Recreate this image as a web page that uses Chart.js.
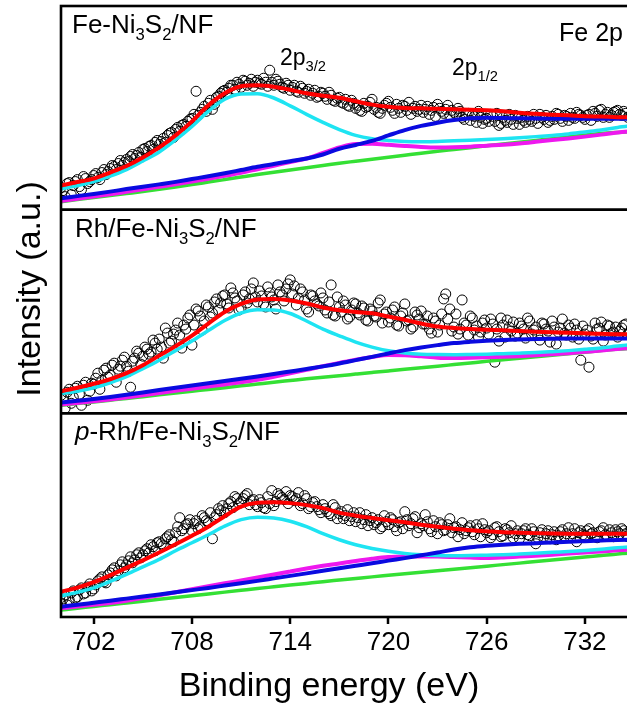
<!DOCTYPE html>
<html>
<head>
<meta charset="utf-8">
<script src="https://cdn.jsdelivr.net/npm/chart.js@4.4.1/dist/chart.umd.min.js"></script>
<style>
  html, body { margin: 0; padding: 0; background: #fff; overflow: hidden; }
  #wrap { width: 640px; height: 706px; }
</style>
</head>
<body>
<div id="wrap"><canvas id="xps" width="640" height="706"></canvas></div>
<script>
// binding energies of the fitted curves (eV)
const curveEnergy = [700, 701, 702, 703, 704, 705, 706, 707, 708, 709, 710, 711,
  712, 713, 714, 715, 716, 717, 718, 719, 720, 721, 722, 723,
  724, 725, 726, 727, 728, 729, 730, 731, 732, 733, 734, 735];

// binding energies of the measured points (eV), two interleaved sets
const pointEnergy = [
  700, 700.25, 700.5, 700.75, 701, 701.25, 701.5, 701.75,
  702, 702.25, 702.5, 702.75, 703, 703.25, 703.5, 703.75,
  704, 704.25, 704.5, 704.75, 705, 705.25, 705.5, 705.75,
  706, 706.25, 706.5, 706.75, 707, 707.25, 707.5, 707.75,
  708, 708.25, 708.5, 708.75, 709, 709.25, 709.5, 709.75,
  710, 710.25, 710.5, 710.75, 711, 711.25, 711.5, 711.75,
  712, 712.25, 712.5, 712.75, 713, 713.25, 713.5, 713.75,
  714, 714.25, 714.5, 714.75, 715, 715.25, 715.5, 715.75,
  716, 716.25, 716.5, 716.75, 717, 717.25, 717.5, 717.75,
  718, 718.25, 718.5, 718.75, 719, 719.25, 719.5, 719.75,
  720, 720.25, 720.5, 720.75, 721, 721.25, 721.5, 721.75,
  722, 722.25, 722.5, 722.75, 723, 723.25, 723.5, 723.75,
  724, 724.25, 724.5, 724.75, 725, 725.25, 725.5, 725.75,
  726, 726.25, 726.5, 726.75, 727, 727.25, 727.5, 727.75,
  728, 728.25, 728.5, 728.75, 729, 729.25, 729.5, 729.75,
  730, 730.25, 730.5, 730.75, 731, 731.25, 731.5, 731.75,
  732, 732.25, 732.5, 732.75, 733, 733.25, 733.5, 733.75,
  734, 734.25, 734.5, 734.75, 735];
const pointEnergyB = [
  700.125, 700.375, 700.625, 700.875, 701.125, 701.375, 701.625, 701.875,
  702.125, 702.375, 702.625, 702.875, 703.125, 703.375, 703.625, 703.875,
  704.125, 704.375, 704.625, 704.875, 705.125, 705.375, 705.625, 705.875,
  706.125, 706.375, 706.625, 706.875, 707.125, 707.375, 707.625, 707.875,
  708.125, 708.375, 708.625, 708.875, 709.125, 709.375, 709.625, 709.875,
  710.125, 710.375, 710.625, 710.875, 711.125, 711.375, 711.625, 711.875,
  712.125, 712.375, 712.625, 712.875, 713.125, 713.375, 713.625, 713.875,
  714.125, 714.375, 714.625, 714.875, 715.125, 715.375, 715.625, 715.875,
  716.125, 716.375, 716.625, 716.875, 717.125, 717.375, 717.625, 717.875,
  718.125, 718.375, 718.625, 718.875, 719.125, 719.375, 719.625, 719.875,
  720.125, 720.375, 720.625, 720.875, 721.125, 721.375, 721.625, 721.875,
  722.125, 722.375, 722.625, 722.875, 723.125, 723.375, 723.625, 723.875,
  724.125, 724.375, 724.625, 724.875, 725.125, 725.375, 725.625, 725.875,
  726.125, 726.375, 726.625, 726.875, 727.125, 727.375, 727.625, 727.875,
  728.125, 728.375, 728.625, 728.875, 729.125, 729.375, 729.625, 729.875,
  730.125, 730.375, 730.625, 730.875, 731.125, 731.375, 731.625, 731.875,
  732.125, 732.375, 732.625, 732.875, 733.125, 733.375, 733.625, 733.875,
  734.125, 734.375, 734.625, 734.875];

const tickValues = [702, 708, 714, 720, 726, 732];

// ---- Fe-Ni3S2/NF ----
const p1Points = [
  22, 13, 27, 24, 30, 20, 31, 28,
  34, 32, 37, 35, 41, 43, 46, 44,
  50, 53, 51, 57, 60, 58, 64, 67,
  65, 71, 74, 77, 80, 78, 85, 88,
  91, 118, 97, 103, 106, 100, 112, 116,
  119, 121, 124, 127, 122, 128, 126, 123,
  129, 125, 127, 139, 124, 128, 122, 126,
  119, 124, 117, 121, 118, 114, 119, 113,
  116, 110, 114, 108, 112, 106, 104, 109,
  101, 99, 106, 103, 110, 102, 96, 104,
  108, 99, 105, 97, 103, 107, 101, 98,
  104, 100, 95, 102, 105, 98, 100, 94,
  97, 101, 92, 95, 89, 93, 98, 86,
  91, 95, 88, 84, 92, 87, 90, 94,
  85, 89, 93, 88, 91, 95, 90, 87,
  93, 96, 91, 94, 89, 92, 97, 94,
  90, 95, 98, 93, 100, 95, 92, 97,
  99, 94, 96, 93, 97];
const p1PointsB = [
  19, 26, 15, 28, 23, 33, 26, 30,
  36, 30, 40, 38, 44, 40, 49, 47,
  48, 55, 54, 52, 61, 63, 60, 69,
  68, 67, 76, 72, 82, 84, 83, 90,
  95, 94, 100, 98, 109, 105, 113, 118,
  117, 124, 120, 125, 129, 124, 130, 127,
  126, 131, 123, 127, 130, 125, 121, 124,
  122, 118, 123, 116, 120, 116, 112, 117,
  113, 117, 109, 111, 107, 110, 103, 106,
  104, 98, 102, 107, 100, 97, 101, 106,
  102, 96, 101, 104, 99, 95, 103, 100,
  97, 103, 99, 93, 101, 96, 104, 99,
  95, 98, 90, 96, 94, 87, 92, 90,
  88, 93, 96, 86, 89, 95, 85, 91,
  92, 87, 90, 95, 86, 92, 94, 89,
  90, 95, 88, 93, 96, 91, 95, 92,
  94, 89, 96, 99, 92, 97, 94, 98,
  95, 98, 92, 96];
const p1Envelope = [24, 27.5, 31, 37, 43.5, 52, 62, 74, 88, 104, 116, 123,
  124, 122.5, 119.5, 116, 113.5, 111.5, 108, 104.7, 102.5, 101.3, 101, 100.5,
  100, 99.7, 99, 98, 96.5, 95.5, 94.7, 94, 93.2, 92.8, 92.2, 92];
const p1Peak32 = [20.7, 24, 28, 33.5, 40, 48.5, 57.5, 69.5, 83, 98, 110, 115.3,
  115.5, 111.3, 103.5, 95, 87, 79.7, 74, 70.7, 69, 68, 67.8, 68,
  68.7, 69.3, 70, 70.8, 71.7, 72.8, 74, 75.5, 77.5, 79.5, 82, 84];
const p1Peak12 = [11.3, 13.5, 15.7, 18, 20.5, 22.8, 25.2, 27.7, 30.5, 33.3, 36.3, 39.5,
  42.7, 45.5, 48.3, 51, 55, 60.7, 64.5, 68.5, 74, 79.3, 83.5, 86.7,
  89.3, 91, 91.5, 91.3, 91, 90.8, 90.7, 90.7, 90.7, 90.7, 90.7, 90.7];
const p1Satellite = [8.7, 10.8, 13, 15.3, 17.8, 20.3, 22.8, 25.3, 28, 30.8, 33.7, 36.8,
  40.3, 43.8, 47.5, 51, 56.5, 62, 65.5, 65.6, 64.7, 63.5, 62.5, 62,
  62.2, 62.8, 63.8, 64.7, 66, 67.7, 69.5, 71, 72.8, 74.8, 77, 78.5];
const p1Background = [8, 10, 12, 14, 16, 18, 20.3, 22.6, 25, 27.5, 30, 32.5,
  35, 37.3, 39.6, 41.8, 44, 46.3, 48.3, 50.3, 52.3, 54.3, 56.3, 58.2,
  60, 61.8, 63.6, 65.4, 67.2, 69, 70.8, 72.6, 74.4, 76, 77, 77.8];

// ---- Rh/Fe-Ni3S2/NF ----
const p2Points = [
  18, 5, 24, 16, 27, 8, 31, 22,
  29, 40, 33, 45, 38, 50, 44, 53,
  47, 26, 55, 60, 57, 64, 61, 70,
  74, 55, 80, 72, 83, 78, 88, 95,
  68, 104, 97, 92, 106, 100, 114, 110,
  118, 105, 120, 112, 105, 121, 114, 130,
  111, 117, 106, 120, 113, 128, 118, 124,
  133, 127, 115, 121, 104, 118, 112, 107,
  115, 100, 128, 97, 106, 112, 94, 103,
  109, 98, 105, 92, 102, 96, 113, 99,
  91, 103, 88, 97, 109, 93, 86, 98,
  102, 89, 84, 95, 81, 99, 119, 104,
  86, 79, 113, 88, 97, 83, 76, 90,
  85, 94, 51, 72, 88, 93, 82, 77,
  90, 84, 95, 79, 86, 73, 89, 82,
  92, 69, 85, 80, 88, 76, 83, 53,
  79, 46, 74, 84, 91, 78, 87, 81,
  76, 85, 89, 80, 84];
const p2PointsB = [
  14, 21, 10, 25, 19, 28, 13, 30,
  35, 24, 43, 36, 48, 31, 47, 56,
  42, 52, 62, 49, 66, 59, 73, 64,
  66, 85, 70, 79, 90, 65, 84, 98,
  88, 102, 83, 108, 96, 111, 103, 117,
  109, 125, 115, 103, 118, 110, 124, 116,
  122, 109, 126, 116, 104, 121, 112, 129,
  119, 108, 124, 113, 101, 117, 109, 120,
  103, 111, 98, 116, 101, 108, 96, 110,
  100, 107, 93, 104, 97, 110, 90, 101,
  95, 106, 87, 100, 92, 84, 101, 94,
  89, 97, 80, 92, 88, 114, 94, 82,
  99, 84, 90, 78, 95, 87, 81, 93,
  79, 89, 84, 95, 76, 86, 91, 80,
  87, 75, 92, 83, 78, 90, 84, 71,
  86, 81, 94, 78, 85, 89, 74, 87,
  83, 77, 90, 85, 72, 88, 80, 86,
  82, 88, 79, 85];
const p2Envelope = [22, 25.5, 29.5, 34, 40, 48, 57.5, 67, 77.5, 89.5, 101, 109,
  113.5, 114, 112.5, 109.5, 105.5, 102.7, 101, 99.7, 96.5, 93.2, 89.5, 86.5,
  85, 84, 83.3, 82.7, 82, 81.4, 80.8, 80.2, 79.7, 79.3, 78.9, 78.6];
const p2Peak32 = [19.7, 22, 25.5, 30.5, 36.5, 44.5, 53, 62.5, 72, 82.5, 92.5, 100,
  103.3, 103, 99.5, 92, 84, 77.3, 71, 66, 62.3, 60.2, 59, 58.6,
  58.5, 58.7, 59, 59.5, 60, 60.6, 61.5, 62.5, 63.8, 65.2, 67, 68.5];
const p2Peak12 = [10.7, 12.5, 14.3, 16.3, 18.5, 20.8, 23.2, 25.5, 27.8, 30, 32.2, 34.5,
  36.8, 39.2, 41.7, 44.2, 46.8, 49.7, 53, 56.3, 59.7, 63, 65.7, 68,
  70, 71.3, 72.3, 73.1, 73.6, 74, 74.3, 74.5, 74.6, 74.7, 74.7, 74.7];
const p2Satellite = [8.7, 10.3, 12, 13.8, 15.8, 18, 20.2, 22.4, 24.6, 26.7, 28.8, 31,
  33.5, 36.5, 39.8, 43.3, 47, 50.3, 53.5, 56.2, 58.2, 58, 56.8, 55.5,
  55.2, 55.4, 55.8, 56.3, 57, 57.8, 58.8, 60, 61.3, 62.6, 64.2, 65.2];
const p2Background = [8, 9.7, 11.4, 13.1, 14.8, 16.6, 18.4, 20.2, 22, 23.8, 25.6, 27.4,
  29.2, 31, 32.7, 34.4, 36, 37.5, 39.1, 40.7, 42.3, 43.9, 45.5, 47,
  48.6, 50.2, 51.8, 53.3, 54.9, 56.4, 58, 59.5, 61, 62.5, 64, 65];

// ---- p-Rh/Fe-Ni3S2/NF ----
const p3Points = [
  14, 22, 17, 26, 20, 29, 24, 33,
  28, 36, 40, 34, 44, 49, 46, 55,
  52, 60, 57, 64, 62, 68, 72, 66,
  75, 71, 80, 77, 84, 99, 88, 93,
  86, 96, 90, 99, 94, 78, 102, 106,
  104, 113, 109, 118, 115, 121, 112, 117,
  110, 114, 108, 113, 111, 123, 119, 125,
  121, 116, 124, 113, 118, 110, 115, 107,
  112, 105, 101, 109, 103, 98, 107, 100,
  95, 104, 97, 91, 99, 94, 88, 101,
  92, 97, 86, 95, 105, 91, 98, 84,
  93, 102, 88, 96, 83, 92, 87, 98,
  89, 80, 94, 86, 91, 82, 88, 93,
  84, 79, 89, 85, 81, 87, 91, 83,
  78, 86, 82, 88, 73, 84, 80, 86,
  82, 77, 85, 80, 89, 83, 75, 86,
  81, 88, 84, 79, 86, 82, 87, 80,
  85, 88, 83, 86, 82];
const p3PointsB = [
  18, 12, 24, 19, 27, 23, 30, 26,
  32, 38, 35, 42, 47, 41, 52, 49,
  56, 54, 62, 59, 66, 64, 70, 74,
  73, 78, 82, 75, 90, 86, 92, 97,
  93, 88, 101, 96, 104, 99, 108, 111,
  108, 115, 120, 113, 118, 123, 116, 112,
  117, 109, 120, 126, 115, 121, 117, 113,
  120, 118, 111, 121, 108, 114, 110, 104,
  108, 103, 112, 98, 105, 101, 96, 104,
  99, 93, 102, 96, 92, 97, 90, 95,
  99, 90, 94, 88, 97, 93, 100, 89,
  91, 95, 85, 90, 94, 86, 92, 84,
  90, 87, 83, 89, 85, 92, 80, 87,
  86, 82, 90, 80, 88, 84, 79, 86,
  83, 88, 81, 85, 79, 87, 83, 78,
  85, 81, 87, 83, 79, 88, 84, 82,
  86, 83, 80, 85, 89, 81, 84, 87,
  83, 86, 80, 84];
const p3Envelope = [25.3, 29.3, 34.7, 41.5, 49, 56.5, 64.3, 72.5, 81, 90, 100.5, 110,
  113.8, 114.3, 113.5, 111.5, 108.5, 104, 101, 98.7, 96.5, 94.4, 92, 89.9,
  88, 86.5, 85.5, 84.5, 84, 83.6, 83.3, 83.1, 83, 83, 83, 83];
const p3Peak32 = [21, 24.5, 29, 35.5, 42.5, 50, 57.5, 66, 74, 82, 90.5, 97,
  99.5, 98.7, 95.5, 90, 83, 77, 72, 68.3, 65.5, 63.3, 62, 61.3,
  61, 61.2, 61.6, 62, 62.7, 63.5, 64.5, 65.3, 66.3, 67.5, 69, 70];
const p3Peak12 = [10.3, 12.2, 14.2, 16.2, 18.3, 20.4, 22.5, 24.6, 26.8, 29, 31.3, 33.6,
  36, 38.5, 41, 43.5, 46, 48.5, 51, 53.5, 56.2, 58.7, 61.5, 64.3,
  67.2, 69.5, 71, 72, 72.9, 73.6, 74.3, 75, 75.6, 76.2, 76.8, 77.2];
const p3Satellite = [8.7, 10.4, 12.2, 14, 16.2, 18.8, 21.6, 24.6, 27.7, 30.7, 33.6, 36.4,
  39.3, 42.3, 45.3, 48.3, 51, 53.3, 55.8, 58, 59.7, 60.3, 60.4, 60.3,
  59.8, 59.2, 58.8, 59.3, 60.2, 61, 62, 63.2, 64.3, 65.3, 66.5, 67.3];
const p3Background = [7, 8.7, 10.5, 12.2, 14, 15.8, 17.6, 19.4, 21.2, 23, 24.8, 26.6,
  28.4, 30.1, 31.8, 33.5, 35.2, 36.8, 38.4, 40, 41.5, 43, 44.5, 46,
  47.6, 49.1, 50.7, 52.2, 53.7, 55.3, 56.8, 58.3, 59.8, 61.3, 62.8, 63.7];

const FONT = '"Liberation Sans", Arial, sans-serif';

const panels = [
  {axis: 'yA', points: [p1Points, p1PointsB], lx: 11,
   fits: [p1Envelope, p1Peak32, p1Peak12, p1Satellite, p1Background],
   label: [{t: 'Fe-Ni'}, {t: '3', sub: true}, {t: 'S'}, {t: '2', sub: true}, {t: '/NF'}]},
  {axis: 'yB', points: [p2Points, p2PointsB], lx: 14,
   fits: [p2Envelope, p2Peak32, p2Peak12, p2Satellite, p2Background],
   label: [{t: 'Rh/Fe-Ni'}, {t: '3', sub: true}, {t: 'S'}, {t: '2', sub: true}, {t: '/NF'}]},
  {axis: 'yC', points: [p3Points, p3PointsB], lx: 14,
   fits: [p3Envelope, p3Peak32, p3Peak12, p3Satellite, p3Background],
   label: [{t: 'p', it: true}, {t: '-Rh/Fe-Ni'}, {t: '3', sub: true}, {t: 'S'}, {t: '2', sub: true}, {t: '/NF'}]}
];

const fitNames = ['envelope', 'Fe 2p3/2', 'Fe 2p1/2', 'satellite', 'background'];
const fitColors = ['#ff0000', '#1ee4f2', '#0a0ae0', '#ee18ee', '#34e034'];
const fitWidths = [4, 3.5, 4, 4, 3.5];
const fitOrder = [0, 2, 1, 3, 4];

const datasets = [];
panels.forEach(p => {
  [pointEnergy, pointEnergyB].forEach((en, j) => {
    datasets.push({
      label: 'data',
      yAxisID: p.axis,
      data: en.map((e, i) => ({x: e, y: p.points[j][i]})),
      showLine: false,
      pointRadius: 5,
      pointBorderWidth: 1,
      pointBorderColor: '#000',
      pointBackgroundColor: 'rgba(255,255,255,0)',
      order: 5
    });
  });
  p.fits.forEach((f, k) => {
    datasets.push({
      label: fitNames[k],
      yAxisID: p.axis,
      data: curveEnergy.map((e, i) => ({x: e, y: f[i]})),
      borderColor: fitColors[k],
      borderWidth: fitWidths[k],
      pointRadius: 0,
      cubicInterpolationMode: 'monotone',
      fill: false,
      order: fitOrder[k]
    });
  });
});

function panelScale() {
  return {
    type: 'linear', position: 'left', stack: 'panels', stackWeight: 1,
    min: 0, max: 203,
    ticks: {display: false},
    grid: {display: false, drawTicks: false},
    border: {display: false},
    afterFit(s) { s.width = 0; }
  };
}

function drawRich(ctx, parts, x, y, size) {
  let cx = x;
  parts.forEach(p => {
    const s = p.sub ? size * 0.64 : size;
    ctx.font = (p.it ? 'italic ' : '') + s + 'px ' + FONT;
    ctx.fillText(p.t, cx, y + (p.sub ? size * 0.27 : 0));
    cx += ctx.measureText(p.t).width;
  });
}

const framePlugin = {
  id: 'frame',
  afterDatasetsDraw(chart) {
    const ctx = chart.ctx;
    const a = chart.chartArea;
    ctx.save();
    ctx.strokeStyle = '#000';
    ctx.lineWidth = 2.6;
    ctx.strokeRect(a.left, a.top, a.right - a.left, a.bottom - a.top);
    panels.forEach(p => {
      const sc = chart.scales[p.axis];
      if (sc.top > a.top + 2) {
        ctx.beginPath();
        ctx.moveTo(a.left, sc.top);
        ctx.lineTo(a.right, sc.top);
        ctx.stroke();
      }
    });
    ctx.fillStyle = '#000';
    ctx.textBaseline = 'alphabetic';
    ctx.textAlign = 'left';
    panels.forEach(p => {
      const sc = chart.scales[p.axis];
      drawRich(ctx, p.label, a.left + p.lx, sc.top + 27, 26);
    });
    const top = chart.scales.yA.top;
    drawRich(ctx, [{t: '2p'}, {t: '3/2', sub: true}], 280, top + 59, 23);
    drawRich(ctx, [{t: '2p'}, {t: '1/2', sub: true}], 452, top + 69, 23);
    ctx.textAlign = 'right';
    ctx.font = '25px ' + FONT;
    ctx.fillText('Fe 2p', 623, top + 35);

    ctx.textAlign = 'center';
    ctx.font = '34px ' + FONT;
    ctx.fillText('Binding energy (eV)', 329, 696);
    ctx.translate(40, 289);
    ctx.rotate(-Math.PI / 2);
    ctx.fillText('Intensity (a.u.)', 0, 0);
    ctx.restore();
  }
};

new Chart(document.getElementById('xps'), {
  type: 'line',
  data: {datasets: datasets},
  options: {
    responsive: false,
    animation: false,
    layout: {padding: {left: 61, right: 6, top: 6, bottom: 0}},
    plugins: {legend: {display: false}, tooltip: {enabled: false}},
    scales: {
      x: {
        type: 'linear', min: 700, max: 735,
        afterBuildTicks(s) { s.ticks = tickValues.map(v => ({value: v})); },
        ticks: {font: {size: 26, family: FONT}, color: '#000', padding: 3, maxRotation: 0,
                callback: v => String(v)},
        grid: {display: true, drawOnChartArea: false, drawTicks: true, tickLength: 7,
               tickWidth: 2.5, tickColor: '#000', lineWidth: 0},
        border: {display: false},
        afterFit(s) { s.height = 89; }
      },
      // stacked panels are laid out bottom-up in the order they are declared
      yC: panelScale(),
      yB: panelScale(),
      yA: panelScale()
    }
  },
  plugins: [framePlugin]
});
</script>
</body>
</html>
